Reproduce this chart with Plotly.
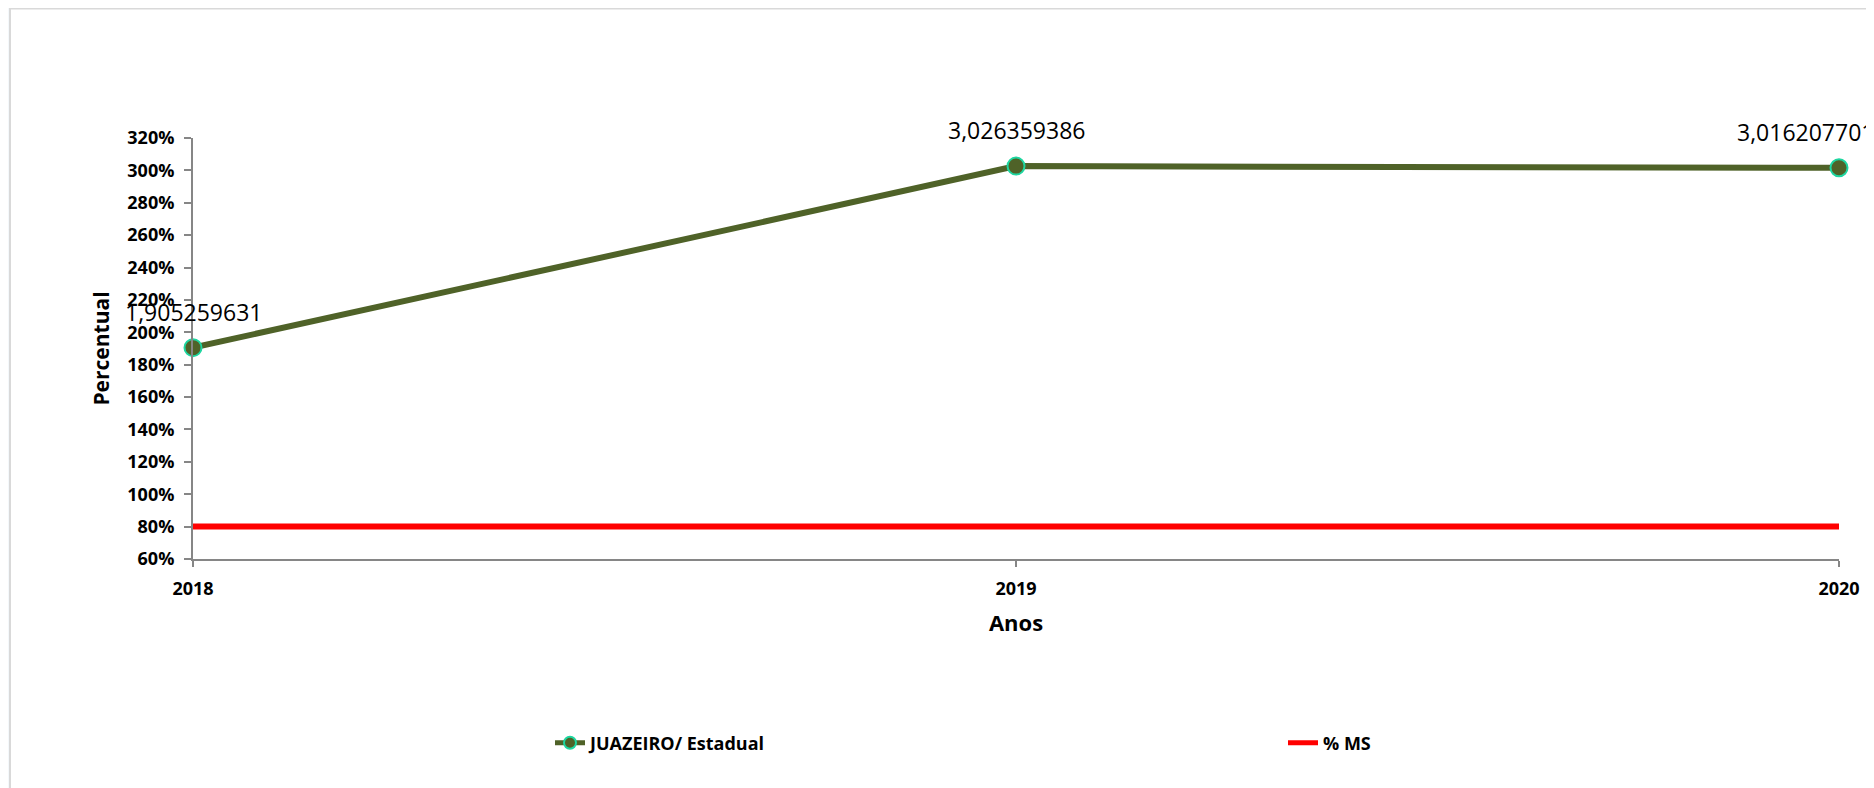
import plotly.graph_objects as go

anos = [2018, 2019, 2020]
juazeiro = [1.905259631, 3.026359386, 3.016207701]
ms = [0.8, 0.8, 0.8]
y_ticks = [0.6, 0.8, 1.0, 1.2, 1.4, 1.6, 1.8, 2.0, 2.2, 2.4, 2.6, 2.8, 3.0, 3.2]
y_tick_labels = [f"{round(v*100)}%" for v in y_ticks]
label_xshift = [0, 0, -34]

W, H = 1874, 788
OFF = 8  # page body margin
L, R, T, B = 185, 43, 130, 237
PW, PH = W - L - R, H - T - B

def px(x):
    # page pixel -> paper coordinate
    return (x - OFF - L) / PW

def py(y):
    return (H - B - (y - OFF)) / PH

bold = dict(family="Open Sans", weight="bold", color="black")

fig = go.Figure()
fig.add_trace(go.Scatter(
    x=anos, y=juazeiro, name="JUAZEIRO/ Estadual", mode="lines+markers",
    line=dict(color="#4F6228", width=6),
    marker=dict(size=17, color="#4F6228", line=dict(color="#1ED6A0", width=2)),
    cliponaxis=False,
))
fig.add_trace(go.Scatter(
    x=anos, y=ms, name="% MS", mode="lines",
    line=dict(color="#FF0000", width=6),
    cliponaxis=False,
))

for x, v, xs in zip(anos, juazeiro, label_xshift):
    fig.add_annotation(
        x=x, y=v, text=f"{v:.9f}".replace(".", ","), showarrow=False,
        yshift=36, xshift=xs, font=dict(family="Open Sans", size=23, color="black"),
    )

shapes = [
    dict(type="rect", xref="paper", yref="paper", layer="below",
         x0=px(10), x1=px(1900), y0=py(820), y1=py(8.5),
         fillcolor="white", line=dict(color="#d9d9d9", width=2)),
]

fig.update_layout(
    width=W, height=H,
    margin=dict(l=L, r=R, t=T, b=B, autoexpand=False),
    paper_bgcolor="#f4f8fb",
    plot_bgcolor="white",
    shapes=shapes,
    showlegend=True,
    legend=dict(
        orientation="h", x=px(550), y=py(743), xanchor="left", yanchor="middle",
        font=dict(size=18, **bold), entrywidth=688, entrywidthmode="pixels",
        bgcolor="rgba(0,0,0,0)", itemsizing="constant",
    ),
    xaxis=dict(
        range=[2018, 2020], tickvals=anos, ticktext=[str(a) for a in anos],
        showgrid=False, zeroline=False, showline=True, linecolor="#868686", linewidth=2,
        ticks="outside", ticklen=6, tickcolor="#868686", tickwidth=2,
        tickfont=dict(size=18, **bold), ticklabelstandoff=6,
        title=dict(text="Anos", font=dict(size=22, **bold), standoff=17),
        automargin=False,
    ),
    yaxis=dict(
        range=[0.6, 3.2], tickvals=y_ticks, ticktext=y_tick_labels,
        showgrid=False, zeroline=False, showline=True, linecolor="#868686", linewidth=2,
        ticks="outside", ticklen=7, tickcolor="#868686", tickwidth=2,
        tickfont=dict(size=18, **bold), ticklabelstandoff=6,
        title=dict(text="Percentual", font=dict(size=21, **bold), standoff=12),
        automargin=False,
    ),
)

fig.write_html("out.html")
